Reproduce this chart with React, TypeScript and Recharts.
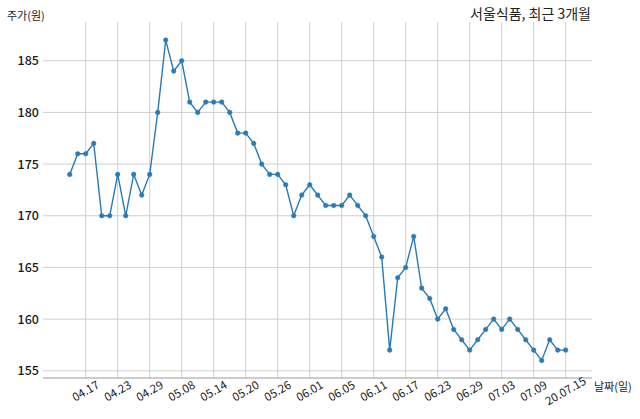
import React from "react";
import { LineChart, Line, XAxis, YAxis, CartesianGrid } from "recharts";

const dates = [
  "04.14","04.16","04.17","04.20","04.21","04.22","04.23","04.24","04.27","04.28",
  "04.29","05.04","05.06","05.07","05.08","05.11","05.12","05.13","05.14","05.15",
  "05.18","05.19","05.20","05.21","05.22","05.25","05.26","05.27","05.28","05.29",
  "06.01","06.02","06.03","06.04","06.05","06.08","06.09","06.10","06.11","06.12",
  "06.15","06.16","06.17","06.18","06.19","06.22","06.23","06.24","06.25","06.26",
  "06.29","06.30","07.01","07.02","07.03","07.06","07.07","07.08","07.09","07.10",
  "07.13","07.14","20.07.15",
];

const prices = [
  174,176,176,177,170,170,174,170,174,172,
  174,180,187,184,185,181,180,181,181,181,
  180,178,178,177,175,174,174,173,170,172,
  173,172,171,171,171,172,171,170,168,166,
  157,164,165,168,163,162,160,161,159,158,
  157,158,159,160,159,160,159,158,157,156,
  158,157,157,
];

const xTickIndex = [2, 6, 10, 14, 18, 22, 26, 30, 34, 38, 42, 46, 50, 54, 58, 62];
const yTicks = [155, 160, 165, 170, 175, 180, 185];

const title = "서울식품, 최근 3개월";
const yLabel = "주가(원)";
const xLabel = "날짜(일)";

const data = prices.map((p, i) => ({ idx: i, date: dates[i], price: p }));

const FONT = '"Noto Sans CJK KR", "Noto Sans", sans-serif';

const XTick = (props: any) => {
  const { x, y, payload } = props;
  const label = dates[payload.value] ?? "";
  const cy = y + 13;
  return (
    <text
      x={x}
      y={cy}
      dy="0.35em"
      textAnchor="middle"
      fontSize={11.5}
      fontFamily={FONT}
      fill="#1a1a1a"
      transform={`rotate(-30 ${x} ${cy})`}
    >
      {label}
    </text>
  );
};

const YTick = (props: any) => {
  const { x, y, payload } = props;
  return (
    <text
      x={x}
      y={y}
      dy="0.36em"
      textAnchor="end"
      fontSize={12.5}
      fontWeight={500}
      fontFamily={FONT}
      fill="#1a1a1a"
    >
      {payload.value}
    </text>
  );
};

export default function App() {
  return (
    <div style={{ position: "absolute", left: 0, top: 0, width: 640, height: 419, background: "#fff" }}>
      <LineChart
        width={640}
        height={419}
        data={data}
        margin={{ top: 22, right: 48, left: 0, bottom: 0 }}
      >
        <CartesianGrid stroke="#cfcfcf" strokeWidth={1} syncWithTicks />
        <XAxis
          dataKey="idx"
          type="number"
          domain={[-3.34, 65.29]}
          ticks={xTickIndex}
          interval={0}
          height={41}
          tickLine={false}
          tickSize={0}
          tickMargin={0}
          axisLine={{ stroke: "#9a9a9a", strokeWidth: 1 }}
          tick={<XTick />}
          allowDataOverflow
        />
        <YAxis
          type="number"
          domain={[154.3, 188.75]}
          ticks={yTicks}
          interval={0}
          width={43}
          tickLine={false}
          tickSize={0}
          tickMargin={4}
          axisLine={false}
          tick={<YTick />}
          allowDataOverflow
        />
        <Line
          type="linear"
          dataKey="price"
          stroke="#2a7ab4"
          strokeWidth={1.4}
          dot={{ r: 2.3, fill: "#2a7ab4", stroke: "#2a7ab4", strokeWidth: 0.5 }}
          isAnimationActive={false}
        />
      </LineChart>
      <svg
        width={640}
        height={419}
        style={{ position: "absolute", left: 0, top: 0, pointerEvents: "none" }}
      >
        <text x={591} y={19} textAnchor="end" fontSize={14} fontFamily={FONT} fill="#222">
          {title}
        </text>
        <text x={7} y={20} textAnchor="start" fontSize={11} fontFamily={FONT} fill="#222">
          {yLabel}
        </text>
        <text x={594} y={391} textAnchor="start" fontSize={11} fontFamily={FONT} fill="#222">
          {xLabel}
        </text>
      </svg>
    </div>
  );
}
